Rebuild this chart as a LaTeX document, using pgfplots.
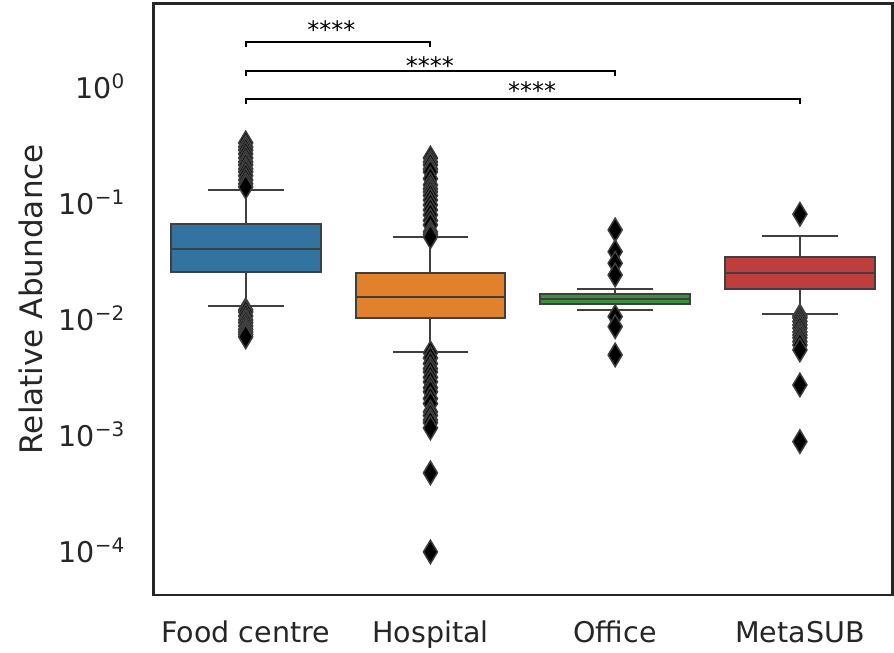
\documentclass[border=0pt]{standalone}
\usepackage{pgfplots}
\pgfplotsset{compat=1.18}
\usepackage{fontspec}
\setmainfont{DejaVu Sans}
\definecolor{sbblue}{HTML}{3274A1}
\definecolor{sborange}{HTML}{E1812C}
\definecolor{sbgreen}{HTML}{3A923A}
\definecolor{sbred}{HTML}{C03D3E}
\definecolor{edgegray}{HTML}{3F3F3F}
\definecolor{axcol}{HTML}{262626}
\pgfdeclareplotmark{thindiamond}{%
  \pgfpathmoveto{\pgfqpoint{0pt}{\pgfplotmarksize}}%
  \pgfpathlineto{\pgfqpoint{0.6\pgfplotmarksize}{0pt}}%
  \pgfpathlineto{\pgfqpoint{0pt}{-\pgfplotmarksize}}%
  \pgfpathlineto{\pgfqpoint{-0.6\pgfplotmarksize}{0pt}}%
  \pgfpathclose\pgfusepathqfillstroke}
\pgfplotsset{
  boxpart/.style={draw=edgegray, line width=1.5pt, mark=none, line join=miter},
  outl/.style={only marks, mark=thindiamond, mark size=8.8pt, mark options={fill=black, draw=edgegray, line width=1.1pt}},
}
\begin{document}
\begin{tikzpicture}
\begin{axis}[
  scale only axis, width=554.25pt, height=443.6pt,
  ymode=log, ymin=4.26e-5, ymax=5.35, xmin=-0.5, xmax=3.5,
  xtick={0,1,2,3}, xticklabels={Food centre,Hospital,Office,MetaSUB},
  ytick={1e-4,1e-3,1e-2,1e-1,1},
  yticklabels={10\textsuperscript{−4},10\textsuperscript{−3},10\textsuperscript{−2},10\textsuperscript{−1},10\textsuperscript{0}},
  major tick length=0pt, minor tick length=0pt,
  axis line style={draw=axcol, line width=2pt},
  tick label style={font=\fontsize{21.4}{25}\selectfont, text=axcol},
  xticklabel style={anchor=base, yshift=-36pt},
  yticklabel style={anchor=base east, xshift=-21pt, yshift=-7.8pt, inner sep=0pt},
  ylabel={Relative Abundance},
  ylabel style={at={(axis description cs:-0.1662,0.5)}, anchor=center, font=\fontsize{23.3}{27}\selectfont, text=axcol},
  clip=false,
]
% ---------- Food centre (x=0): Q1 0.0258, median 0.0409, Q3 0.0668, whiskers 0.0133 / 0.132
\addplot[boxpart] coordinates {(0,0.0668) (0,0.132)};
\addplot[boxpart] coordinates {(0,0.0258) (0,0.0133)};
\addplot[boxpart] coordinates {(-0.205,0.132) (0.205,0.132)};
\addplot[boxpart] coordinates {(-0.205,0.0133) (0.205,0.0133)};
\addplot[boxpart, fill=sbblue] coordinates {(-0.405,0.0258) (0.405,0.0258) (0.405,0.0668) (-0.405,0.0668)} -- cycle;
\addplot[boxpart] coordinates {(-0.405,0.0409) (0.405,0.0409)};
\addplot[outl] coordinates {(0,0.336) (0,0.31) (0,0.292) (0,0.27) (0,0.249) (0,0.23) (0,0.217) (0,0.2) (0,0.189) (0,0.175) (0,0.161) (0,0.149) (0,0.14) (0,0.0122) (0,0.0117) (0,0.0108) (0,0.0100) (0,0.0095) (0,0.00887) (0,0.0083) (0,0.00788) (0,0.0075) (0,0.00714)};
% ---------- Hospital (x=1)
\addplot[boxpart] coordinates {(1,0.0256) (1,0.0516)};
\addplot[boxpart] coordinates {(1,0.01047) (1,0.00533)};
\addplot[boxpart] coordinates {(0.795,0.0516) (1.205,0.0516)};
\addplot[boxpart] coordinates {(0.795,0.00533) (1.205,0.00533)};
\addplot[boxpart, fill=sborange] coordinates {(0.595,0.01047) (1.405,0.01047) (1.405,0.0256) (0.595,0.0256)} -- cycle;
\addplot[boxpart] coordinates {(0.595,0.0159) (1.405,0.0159)};
\addplot[outl] coordinates {(1,0.249) (1,0.23) (1,0.217) (1,0.2) (1,0.189) (1,0.165) (1,0.146) (1,0.135) (1,0.127) (1,0.118) (1,0.108) (1,0.098) (1,0.0887) (1,0.0804) (1,0.072) (1,0.0659) (1,0.0574) (1,0.0545) (1,0.052) (1,0.0052) (1,0.0047) (1,0.0042) (1,0.0038) (1,0.00356) (1,0.0032) (1,0.00292) (1,0.0026) (1,0.0024) (1,0.0021) (1,0.0019) (1,0.00161) (1,0.0015) (1,0.00137) (1,0.0013) (1,0.00117) (1,0.00048) (1,0.0001)};
% ---------- Office (x=2)
\addplot[boxpart] coordinates {(2,0.01676) (2,0.0184)};
\addplot[boxpart] coordinates {(2,0.01374) (2,0.01213)};
\addplot[boxpart] coordinates {(1.795,0.0184) (2.205,0.0184)};
\addplot[boxpart] coordinates {(1.795,0.01213) (2.205,0.01213)};
\addplot[boxpart, fill=sbgreen] coordinates {(1.595,0.01374) (2.405,0.01374) (2.405,0.01676) (1.595,0.01676)} -- cycle;
\addplot[boxpart] coordinates {(1.595,0.01517) (2.405,0.01517)};
\addplot[outl] coordinates {(2,0.0597) (2,0.0388) (2,0.0308) (2,0.0244) (2,0.01068) (2,0.00875) (2,0.00499)};
% ---------- MetaSUB (x=3)
\addplot[boxpart] coordinates {(3,0.0347) (3,0.0533)};
\addplot[boxpart] coordinates {(3,0.0185) (3,0.0112)};
\addplot[boxpart] coordinates {(2.795,0.0533) (3.205,0.0533)};
\addplot[boxpart] coordinates {(2.795,0.0112) (3.205,0.0112)};
\addplot[boxpart, fill=sbred] coordinates {(2.595,0.0185) (3.405,0.0185) (3.405,0.0347) (2.595,0.0347)} -- cycle;
\addplot[boxpart] coordinates {(2.595,0.0256) (3.405,0.0256)};
\addplot[outl] coordinates {(3,0.0815) (3,0.0108) (3,0.0104) (3,0.0097) (3,0.00906) (3,0.0085) (3,0.00788) (3,0.0074) (3,0.0070) (3,0.0065) (3,0.00608) (3,0.00551) (3,0.00275) (3,0.000893)};
% ---------- significance brackets
\addplot[black, line width=1.5pt, mark=none] coordinates {(0,2.26) (0,2.49) (1,2.49) (1,2.26)};
\addplot[black, line width=1.5pt, mark=none] coordinates {(0,1.27) (0,1.41) (2,1.41) (2,1.27)};
\addplot[black, line width=1.5pt, mark=none] coordinates {(0,0.728) (0,0.804) (3,0.804) (3,0.728)};
\node[anchor=base, font=\fontsize{18}{20}\selectfont, inner sep=0pt] at (axis cs:0.464,2.645) {****};
\node[anchor=base, font=\fontsize{18}{20}\selectfont, inner sep=0pt] at (axis cs:0.997,1.30) {****};
\node[anchor=base, font=\fontsize{18}{20}\selectfont, inner sep=0pt] at (axis cs:1.551,0.788) {****};
\end{axis}
\pgfresetboundingbox
\path[use as bounding box] ([shift={(-115pt,-43.5pt)}]current axis.south west) rectangle ([shift={(1.3pt,2.6pt)}]current axis.north east);
\end{tikzpicture}
\end{document}
